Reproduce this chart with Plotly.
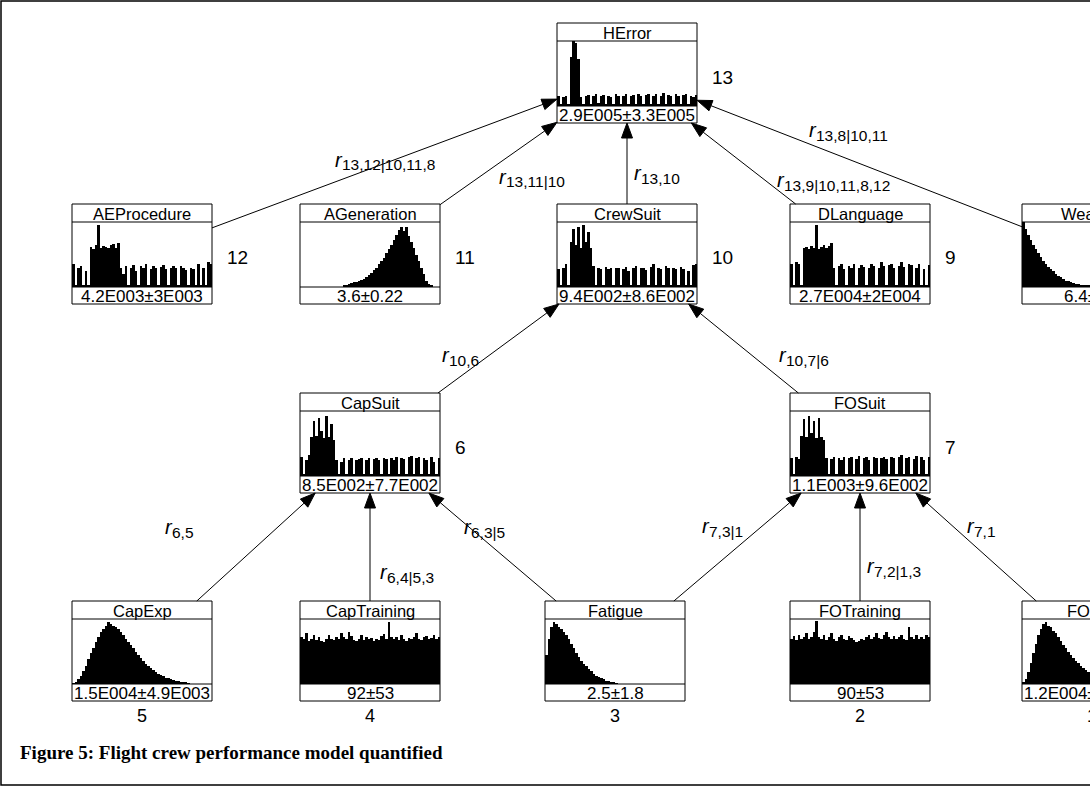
import math
import plotly.graph_objects as go

# ---------------- data ----------------
node_names = ["HError", "AEProcedure", "AGeneration", "CrewSuit", "DLanguage", "Weather",
              "CapSuit", "FOSuit", "CapExp", "CapTraining", "Fatigue", "FOTraining", "FOExp"]
node_labels = ["2.9E005±3.3E005", "4.2E003±3E003", "3.6±0.22", "9.4E002±8.6E002", "2.7E004±2E004",
               "6.4±6.3", "8.5E002±7.7E002", "1.1E003±9.6E002", "1.5E004±4.9E003", "92±53",
               "2.5±1.8", "90±53", "1.2E004±4.9E003"]
node_numbers = ["13", "12", "11", "10", "9", "8", "6", "7", "5", "4", "3", "2", "1"]

hist_herror = [0.15, 0.02, 0.14, 0.16, 0.02, 0.75, 1.0, 0.97, 0.72, 0.14, 0.02, 0.15, 0.17, 0.03, 0.16,
               0.18, 0.04, 0.15, 0.17, 0.02, 0.16, 0.14, 0.03, 0.18, 0.16, 0.02, 0.15, 0.19, 0.03, 0.16,
               0.17, 0.02, 0.18, 0.15, 0.03, 0.17, 0.19, 0.02, 0.16, 0.18, 0.03, 0.15, 0.2, 0.02, 0.17,
               0.16, 0.03, 0.18, 0.15, 0.02, 0.17, 0.19, 0.03, 0.16, 0.14, 0.17]
hist_aeprocedure = [0.36, 0.02, 0.3, 0.32, 0.02, 0.25, 0.02, 0.62, 0.58, 0.65, 0.95, 0.6, 0.63, 0.62,
                    0.6, 0.64, 0.66, 0.6, 0.68, 0.3, 0.2, 0.33, 0.02, 0.3, 0.34, 0.25, 0.02, 0.32, 0.3,
                    0.35, 0.02, 0.28, 0.33, 0.3, 0.02, 0.31, 0.34, 0.27, 0.02, 0.3, 0.33, 0.29, 0.02,
                    0.32, 0.3, 0.26, 0.02, 0.3, 0.28, 0.02, 0.35, 0.02, 0.3, 0.02, 0.38, 0.36]
hist_ageneration = [0, 0, 0, 0, 0, 0, 0, 0, 0, 0, 0, 0, 0, 0, 0, 0, 0, 0.02, 0.03, 0.04, 0.06, 0.07,
                    0.08, 0.1, 0.11, 0.13, 0.15, 0.18, 0.22, 0.26, 0.3, 0.35, 0.4, 0.45, 0.52, 0.58,
                    0.64, 0.72, 0.8, 0.88, 0.93, 0.86, 0.93, 0.78, 0.7, 0.6, 0.5, 0.4, 0.3, 0.2, 0.1,
                    0.05, 0.02, 0, 0, 0]
hist_crewsuit = [0.28, 0.02, 0.3, 0.35, 0.02, 0.7, 0.9, 0.65, 0.92, 0.6, 0.95, 0.7, 0.85, 0.6, 0.32,
                 0.02, 0.3, 0.28, 0.02, 0.31, 0.27, 0.3, 0.02, 0.29, 0.3, 0.02, 0.28, 0.31, 0.25, 0.02,
                 0.3, 0.32, 0.02, 0.29, 0.3, 0.26, 0.02, 0.31, 0.35, 0.02, 0.3, 0.28, 0.02, 0.33, 0.29,
                 0.02, 0.3, 0.27, 0.02, 0.31, 0.28, 0.02, 0.25, 0.02, 0.34, 0.36]
hist_dlanguage = [0.35, 0.02, 0.38, 0.36, 0.02, 0.6, 0.62, 0.58, 0.63, 0.6, 0.95, 0.58, 0.62, 0.65,
                  0.6, 0.63, 0.68, 0.3, 0.02, 0.33, 0.35, 0.28, 0.02, 0.32, 0.3, 0.36, 0.02, 0.29,
                  0.34, 0.31, 0.02, 0.3, 0.35, 0.33, 0.02, 0.3, 0.38, 0.32, 0.02, 0.34, 0.36, 0.3,
                  0.02, 0.33, 0.38, 0.31, 0.02, 0.35, 0.34, 0.02, 0.3, 0.36, 0.02, 0.28, 0.02, 0.34]
hist_weather = [1.0, 0.9, 0.8, 0.72, 0.65, 0.58, 0.52, 0.46, 0.4, 0.36, 0.31, 0.27, 0.24, 0.2, 0.17,
                0.15, 0.12, 0.1, 0.09, 0.07, 0.06, 0.05, 0.04, 0.03, 0.03, 0.02, 0.02, 0.01, 0.01,
                0.01, 0, 0, 0, 0, 0, 0, 0, 0, 0, 0, 0, 0, 0, 0, 0, 0, 0, 0, 0, 0, 0, 0, 0, 0, 0, 0]
hist_capsuit = [0.3, 0.02, 0.25, 0.33, 0.6, 0.85, 0.62, 0.9, 0.7, 0.58, 0.92, 0.6, 0.8, 0.55, 0.25,
                0.02, 0.22, 0.27, 0.02, 0.25, 0.28, 0.02, 0.24, 0.26, 0.27, 0.02, 0.25, 0.28, 0.02,
                0.26, 0.27, 0.25, 0.02, 0.28, 0.26, 0.02, 0.27, 0.25, 0.3, 0.02, 0.28, 0.26, 0.02,
                0.29, 0.31, 0.02, 0.27, 0.3, 0.02, 0.28, 0.25, 0.02, 0.3, 0.22, 0.02, 0.28]
hist_fosuit = [0.28, 0.02, 0.3, 0.26, 0.62, 0.88, 0.6, 0.92, 0.66, 0.85, 0.58, 0.9, 0.6, 0.56, 0.27,
               0.02, 0.26, 0.3, 0.02, 0.27, 0.25, 0.29, 0.02, 0.28, 0.3, 0.02, 0.26, 0.31, 0.02, 0.27,
               0.29, 0.25, 0.02, 0.3, 0.27, 0.02, 0.28, 0.3, 0.26, 0.02, 0.29, 0.27, 0.02, 0.3, 0.32,
               0.02, 0.28, 0.3, 0.02, 0.26, 0.31, 0.02, 0.29, 0.25, 0.02, 0.3]
hist_capexp = [0.01, 0.03, 0.07, 0.12, 0.2, 0.28, 0.38, 0.47, 0.56, 0.64, 0.72, 0.8, 0.85, 0.9, 0.95,
               0.93, 0.9, 0.88, 0.84, 0.8, 0.76, 0.7, 0.65, 0.6, 0.55, 0.5, 0.45, 0.4, 0.35, 0.31,
               0.27, 0.24, 0.21, 0.18, 0.16, 0.14, 0.12, 0.1, 0.09, 0.07, 0.06, 0.05, 0.04, 0.03,
               0.02, 0.02, 0.01, 0, 0, 0, 0, 0, 0, 0, 0, 0]
hist_captraining = [0.72, 0.7, 0.78, 0.66, 0.7, 0.75, 0.68, 0.72, 0.66, 0.64, 0.7, 0.76, 0.69, 0.67,
                    0.73, 0.7, 0.78, 0.72, 0.69, 0.8, 0.74, 0.68, 0.66, 0.7, 0.75, 0.67, 0.72, 0.69,
                    0.71, 0.66, 0.7, 0.68, 0.74, 0.77, 0.7, 0.95, 0.72, 0.69, 0.73, 0.68, 0.75, 0.7,
                    0.66, 0.71, 0.69, 0.73, 0.78, 0.7, 0.67, 0.72, 0.74, 0.69, 0.71, 0.76, 0.7, 0.73]
hist_fatigue = [0.45, 0.7, 0.88, 0.95, 0.93, 0.88, 0.85, 0.8, 0.75, 0.7, 0.62, 0.55, 0.48, 0.42, 0.36,
                0.31, 0.27, 0.23, 0.2, 0.16, 0.13, 0.11, 0.09, 0.07, 0.05, 0.04, 0.03, 0.02, 0.01, 0,
                0, 0, 0, 0, 0, 0, 0, 0, 0, 0, 0, 0, 0, 0, 0, 0, 0, 0, 0, 0, 0, 0, 0, 0, 0, 0]
hist_fotraining = [0.7, 0.74, 0.68, 0.76, 0.7, 0.72, 0.78, 0.69, 0.73, 0.8, 0.97, 0.72, 0.7, 0.75,
                   0.68, 0.73, 0.78, 0.7, 0.66, 0.72, 0.76, 0.7, 0.68, 0.74, 0.71, 0.67, 0.64, 0.66,
                   0.7, 0.68, 0.72, 0.75, 0.7, 0.73, 0.78, 0.71, 0.69, 0.76, 0.8, 0.72, 0.7, 0.74,
                   0.69, 0.73, 0.76, 0.7, 0.68, 0.88, 0.72, 0.7, 0.75, 0.69, 0.73, 0.7, 0.76, 0.72]
hist_foexp = [0.02, 0.08, 0.18, 0.32, 0.48, 0.62, 0.75, 0.85, 0.93, 0.95, 0.9, 0.88, 0.82, 0.78,
              0.72, 0.66, 0.6, 0.55, 0.5, 0.45, 0.4, 0.36, 0.32, 0.28, 0.25, 0.22, 0.19, 0.16, 0.14,
              0.12, 0.1, 0.08, 0.07, 0.06, 0.05, 0.04, 0.03, 0.02, 0.02, 0.01, 0, 0, 0, 0, 0, 0, 0,
              0, 0, 0, 0, 0, 0, 0, 0, 0]

node_hists = [hist_herror, hist_aeprocedure, hist_ageneration, hist_crewsuit, hist_dlanguage,
              hist_weather, hist_capsuit, hist_fosuit, hist_capexp, hist_captraining, hist_fatigue,
              hist_fotraining, hist_foexp]

edge_child = ["AEProcedure", "AGeneration", "CrewSuit", "DLanguage", "Weather", "CapSuit", "FOSuit",
              "CapExp", "CapTraining", "Fatigue", "Fatigue", "FOTraining", "FOExp"]
edge_parent = ["HError", "HError", "HError", "HError", "HError", "CrewSuit", "CrewSuit",
               "CapSuit", "CapSuit", "CapSuit", "FOSuit", "FOSuit", "FOSuit"]
edge_sub = ["13,12|10,11,8", "13,11|10", "13,10", "13,9|10,11,8,12", "13,8|10,11", "10,6", "10,7|6",
            "6,5", "6,4|5,3", "6,3|5", "7,3|1", "7,2|1,3", "7,1"]

caption = "Figure 5: Flight crew performance model quantified"

# ---------------- layout geometry (pixels) ----------------
W, H = 1090, 809
BW, BH = 140, 100
TITLE_H, LABEL_H = 18, 17
box_pos = {  # top-left corners
    "HError": (557, 23), "AEProcedure": (72, 204), "AGeneration": (300, 204),
    "CrewSuit": (557, 204), "DLanguage": (790, 204), "Weather": (1022, 204),
    "CapSuit": (300, 393), "FOSuit": (790, 393),
    "CapExp": (72, 601), "CapTraining": (300, 601), "Fatigue": (545, 601),
    "FOTraining": (790, 601), "FOExp": (1022, 601),
}
bottom_row = {"CapExp", "CapTraining", "Fatigue", "FOTraining", "FOExp"}
# left edge / vertical centre of each edge label
edge_label_pos = [(333, 160), (497, 177), (632, 173), (775, 180), (807, 130), (440, 355),
                  (777, 355), (163, 527), (378, 572), (462, 527), (700, 526), (865, 566), (965, 526)]
ARROW_LEN, ARROW_HW = 15, 5.5

FONT = "Arial, Liberation Sans, sans-serif"


def px(x):
    return x / W


def py(y):
    return 1 - y / H


fig = go.Figure()
shapes = []
annotations = []

# outer frame
shapes.append(dict(type="rect", xref="x", yref="y", x0=1, y0=1, x1=1100, y1=785,
                   line=dict(color="black", width=1.5)))

for i, name in enumerate(node_names):
    x0, y0 = box_pos[name]
    x1, y1 = x0 + BW, y0 + BH
    cx = x0 + BW / 2
    shapes.append(dict(type="rect", xref="x", yref="y", x0=x0, y0=y0, x1=x1, y1=y1,
                       line=dict(color="black", width=1)))
    shapes.append(dict(type="line", xref="x", yref="y", x0=x0, x1=x1, y0=y0 + TITLE_H, y1=y0 + TITLE_H,
                       line=dict(color="black", width=1)))
    shapes.append(dict(type="line", xref="x", yref="y", x0=x0, x1=x1, y0=y1 - LABEL_H, y1=y1 - LABEL_H,
                       line=dict(color="black", width=1)))
    annotations.append(dict(x=px(cx), y=py(y0 + TITLE_H / 2 + 1), xref="paper", yref="paper", text=name,
                            showarrow=False, font=dict(family=FONT, size=16.5, color="black"),
                            xanchor="center", yanchor="middle"))
    annotations.append(dict(x=px(cx), y=py(y1 - LABEL_H / 2 + 1), xref="paper", yref="paper",
                            text=node_labels[i], showarrow=False,
                            font=dict(family=FONT, size=17, color="black"),
                            xanchor="center", yanchor="middle"))
    if name in bottom_row:
        annotations.append(dict(x=px(cx), y=py(y1 + 15), xref="paper", yref="paper", text=node_numbers[i],
                                showarrow=False, font=dict(family=FONT, size=18, color="black"),
                                xanchor="center", yanchor="middle"))
    elif x1 + 13 < W:  # numbers placed beyond the picture's right edge are not visible
        annotations.append(dict(x=px(x1 + 13), y=py(y0 + BH / 2 + 4), xref="paper", yref="paper",
                                text=node_numbers[i], showarrow=False,
                                font=dict(family=FONT, size=19, color="black"),
                                xanchor="left", yanchor="middle"))

    # histogram on its own small axes
    vals = node_hists[i]
    n = len(vals)
    k = i + 2
    vis_x1 = min(x1, W)
    frac = (vis_x1 - x0) / BW
    fig.add_trace(go.Bar(x=list(range(n)), y=vals, marker=dict(color="black", line=dict(width=0)),
                         xaxis=f"x{k}", yaxis=f"y{k}", showlegend=False, hoverinfo="skip"))
    fig.layout[f"xaxis{k}"] = dict(domain=[x0 / W, vis_x1 / W], range=[-0.5, -0.5 + n * frac],
                                   visible=False, fixedrange=True, anchor=f"y{k}")
    fig.layout[f"yaxis{k}"] = dict(domain=[1 - (y1 - LABEL_H) / H, 1 - (y0 + TITLE_H) / H],
                                   range=[0, 1.0], visible=False, fixedrange=True, anchor=f"x{k}")


def clip_point(name, tx, ty):
    """Point where the segment from box centre toward (tx,ty) leaves the box."""
    x0, y0 = box_pos[name]
    cx, cy = x0 + BW / 2, y0 + BH / 2
    dx, dy = tx - cx, ty - cy
    ts = []
    if dx != 0:
        ts.append((BW / 2) / abs(dx))
    if dy != 0:
        ts.append((BH / 2) / abs(dy))
    t = min(ts)
    return cx + dx * t, cy + dy * t


for j, (c, p) in enumerate(zip(edge_child, edge_parent)):
    cx0, cy0 = box_pos[c]
    px0, py0 = box_pos[p]
    ccx, ccy = cx0 + BW / 2, cy0 + BH / 2
    pcx, pcy = px0 + BW / 2, py0 + BH / 2
    sx, sy = clip_point(c, pcx, pcy)
    ex, ey = clip_point(p, ccx, ccy)
    L = math.hypot(ex - sx, ey - sy)
    ux, uy = (ex - sx) / L, (ey - sy) / L
    bx, by = ex - ARROW_LEN * ux, ey - ARROW_LEN * uy
    nx, ny = -uy, ux
    shapes.append(dict(type="line", xref="x", yref="y", x0=sx, y0=sy, x1=bx, y1=by,
                       line=dict(color="black", width=1)))
    shapes.append(dict(type="path", xref="x", yref="y",
                       path=(f"M{ex},{ey} L{bx + ARROW_HW * nx},{by + ARROW_HW * ny} "
                             f"L{bx - ARROW_HW * nx},{by - ARROW_HW * ny} Z"),
                       fillcolor="black", line=dict(color="black", width=1)))
    lx, ly = edge_label_pos[j]
    annotations.append(dict(x=px(lx), y=py(ly), xref="paper", yref="paper", text="<i>r</i>",
                            showarrow=False, font=dict(family=FONT, size=20, color="black"),
                            xanchor="left", yanchor="middle"))
    annotations.append(dict(x=px(lx + 7), y=py(ly + 5), xref="paper", yref="paper", text=edge_sub[j],
                            showarrow=False, font=dict(family=FONT, size=15.5, color="black"),
                            xanchor="left", yanchor="middle"))

annotations.append(dict(x=px(18), y=py(752), xref="paper", yref="paper", text=f"<b>{caption}</b>",
                        showarrow=False, xanchor="left", yanchor="middle",
                        font=dict(family="Times New Roman, Liberation Serif, serif", size=19,
                                  color="black")))

fig.update_layout(
    width=W, height=H, margin=dict(l=0, r=0, t=0, b=0),
    paper_bgcolor="white", plot_bgcolor="white",
    xaxis=dict(range=[0, W], visible=False, fixedrange=True, domain=[0, 1]),
    yaxis=dict(range=[H, 0], visible=False, fixedrange=True, domain=[0, 1]),
    bargap=0, barmode="overlay",
    shapes=shapes, annotations=annotations, showlegend=False,
)

fig.write_html("out.html", config={"displayModeBar": False},
               post_script="document.body.style.margin='0';document.documentElement.style.overflow='hidden';")
